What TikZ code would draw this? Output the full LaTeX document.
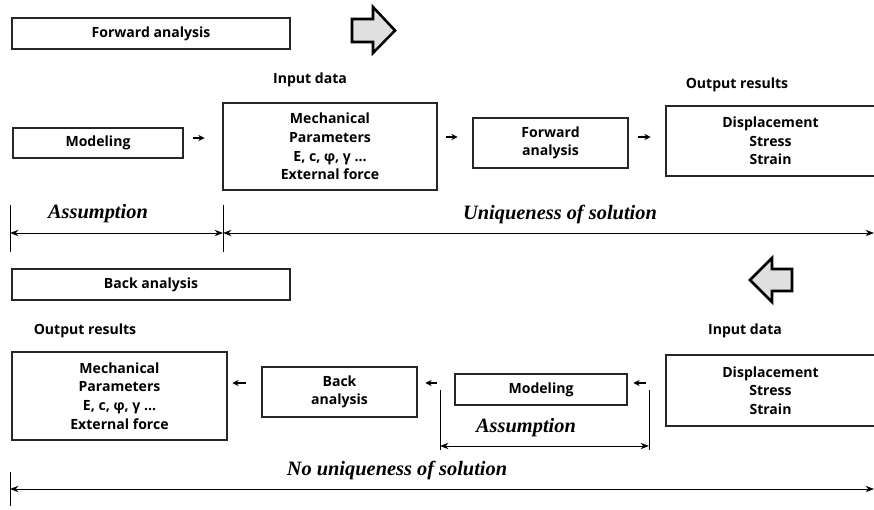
\documentclass[tikz,border=0pt]{standalone}
\usepackage{fontspec}
\setmainfont{Liberation Serif}
\setsansfont{Open Sans}
\usetikzlibrary{calc,arrows.meta}
\def\px{0.025cm}
\tikzset{
	box/.style={draw=black!85, line width=0.9pt, inner sep=0pt, align=center,
		font=\sffamily\bfseries\fontsize{10}{13.2}\selectfont},
	plain/.style={inner sep=0pt, align=center, font=\sffamily\bfseries\fontsize{10}{13.2}\selectfont},
	note/.style={inner sep=0pt, font=\bfseries\itshape\fontsize{14.5}{16}\selectfont},
	gap/.style={-{Stealth[length=4.5pt,width=4.5pt]}, line width=0.8pt},
	dim/.style={{Stealth[length=6pt,width=4.5pt]}-{Stealth[length=6pt,width=4.5pt]}, line width=0.7pt},
	tick/.style={line width=0.7pt},
	bigarrow/.style={draw=black, fill=black!12, line width=1.8pt, line join=miter}
}

\begin{document}
\begin{tikzpicture}[x=\px, y=-\px]
		\useasboundingbox (0,0) rectangle (874,510);
		%%%%% FORWARD %%%%%
		\node[box, minimum width=278*\px, minimum height=31*\px] (fwdtitle) at (151,33.5) {Forward analysis};
		\draw[bigarrow] (352,19) -- (373,19) -- (373,7) -- (395,30.5) -- (373,53) -- (373,42) -- (352,42) -- cycle;
		
		\node[plain] (inlabel) at (310,80) {Input data};
		\node[plain] (outlabel) at (737,85) {Output results};
		
		\node[box, minimum width=170*\px, minimum height=30*\px] (model) at (98,143) {Modeling};
		\node[box, minimum width=214*\px, minimum height=87*\px] (params) at (330,146.5) {Mechanical\\Parameters\\E, c, φ, γ \ldots\\External force};
		\node[box, minimum width=155*\px, minimum height=50*\px] (fwd) at (550.5,143) {Forward\\analysis};
		\node[box, minimum width=209*\px, minimum height=70*\px] (disp) at (770.5,141) {Displacement\\Stress\\Strain};
		
		\draw[gap] ($(model.east)+(9,-5)$) -- ++(12,0);
		\draw[gap] ($(params.east)+(8,-9.5)$) -- ++(12,0);
		\draw[gap] ($(fwd.east)+(9,-6)$) -- ++(13,0);
		
		\node[note] (assume) at (98,214) {Assumption};
		\node[note] (unique) at (560,214) {Uniqueness of solution};
		
		\coordinate (t1) at (10,233);
		\coordinate (t2) at (223,233);
		\coordinate (t3) at (874,233);
		\draw[tick] (10,205) -- (10,252);
		\draw[tick] (223,205) -- (223,252);
		\draw[dim] (t1) -- (t2);
		\draw[dim] (t2) -- (t3);
		
		%%%%% BACK %%%%%
		\node[box, minimum width=278*\px, minimum height=31*\px] (backtitle) at (151,284.5) {Back analysis};
		\draw[bigarrow] (792,269) -- (772,269) -- (772,258) -- (750,280) -- (772,302) -- (772,291) -- (792,291) -- cycle;
		
		\node[plain] (outlabel2) at (85,331) {Output results};
		\node[plain] (inlabel2) at (745,331) {Input data};
		
		\node[box, minimum width=215*\px, minimum height=88*\px] (params2) at (119.5,396) {Mechanical\\Parameters\\E, c, φ, γ \ldots\\External force};
		\node[box, minimum width=155*\px, minimum height=50*\px] (back) at (339.5,392) {Back\\analysis};
		\node[box, minimum width=172*\px, minimum height=31*\px] (model2) at (541,389.5) {Modeling};
		\node[box, minimum width=209*\px, minimum height=71*\px] (disp2) at (770.5,390.5) {Displacement\\Stress\\Strain};
		
		\draw[gap] ($(back.west)+(-15,-9)$) -- ++(-14,0);
		\draw[gap] ($(model2.west)+(-17,-6.5)$) -- ++(-12,0);
		\draw[gap] ($(disp2.west)+(-19,-7.5)$) -- ++(-13,0);
		
		\node[note] (assume2) at (526,428) {Assumption};
		\node[note] (nounique) at (397,470) {No uniqueness of solution};
		
		\coordinate (b1) at (440,446);
		\coordinate (b2) at (649,446);
		\draw[tick] (440,390) -- (440,450);
		\draw[tick] (649,390) -- (649,450);
		\draw[dim] (b1) -- (b2);
		
		\coordinate (l1) at (10,489);
		\coordinate (l2) at (874,489);
		\draw[tick] (10,472) -- (10,506);
		\draw[dim] (l1) -- (l2);
		%%%%% END %%%%%
\end{tikzpicture}
\end{document}
